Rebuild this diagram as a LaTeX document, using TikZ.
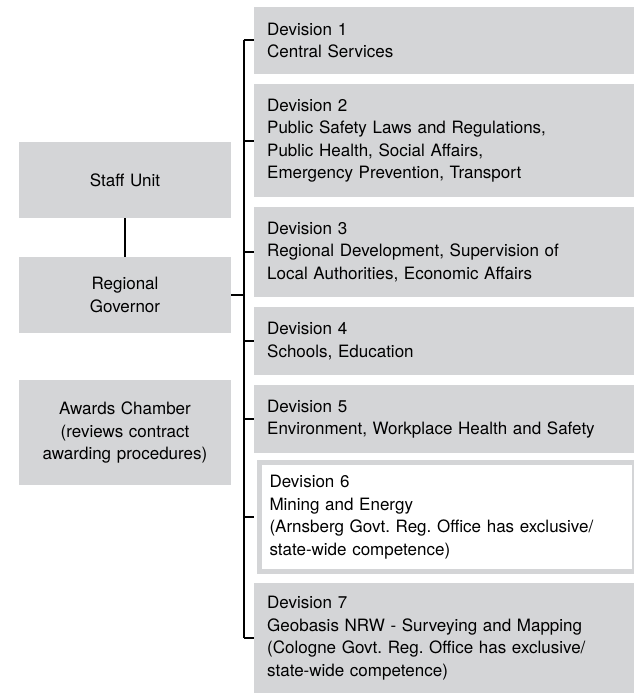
\documentclass[tikz,border=0pt]{standalone}
\usepackage{fontspec}
\setmainfont{TeX Gyre Heros}
\frenchspacing
\usetikzlibrary{calc,positioning}
\definecolor{BoxGray}{HTML}{D4D5D7}

\tikzset{
  unitbox/.style={
    fill=BoxGray,
    minimum width=212pt,
    text width=200pt,
    align=center,
    inner sep=0pt,
    font=\fontsize{17}{22.5}\selectfont
  },
  divbox/.style={
    fill=BoxGray,
    anchor=west,
    minimum width=380pt,
    text width=354pt,
    inner xsep=13pt,
    inner ysep=0pt,
    align=left,
    font=\fontsize{17}{22.5}\selectfont
  },
  link/.style={line width=2pt}
}

\begin{document}
\begin{tikzpicture}[x=1pt,y=-1pt]
  \useasboundingbox (0,0) rectangle (634,693);

  % left column
  \node[unitbox, minimum height=76pt] (staff) at (125,180) {Staff Unit};
  \node[unitbox, minimum height=76pt] (gov) at (125,295) {Regional\\Governor};
  \node[unitbox, minimum height=105pt] (awards) at (125,432.5)
    {Awards Chamber\\(reviews contract\\awarding procedures)};

  % divisions
  \node[divbox, minimum height=67pt] (d1) at (254,40.5)
    {Devision 1\\Central Services};
  \node[divbox, minimum height=113pt] (d2) at (254,140.5)
    {Devision 2\\Public Safety Laws and Regulations,\\Public Health, Social Affairs,\\Emergency Prevention, Transport};
  \node[divbox, minimum height=90pt] (d3) at (254,252)
    {Devision 3\\Regional Development, Supervision of\\Local Authorities, Economic Affairs};
  \node[divbox, minimum height=68pt] (d4) at (254,341)
    {Devision 4\\Schools, Education};
  \node[divbox, minimum height=68pt] (d5) at (254,419)
    {Devision 5\\Environment, Workplace Health and Safety};
  \node[divbox, fill=white, draw=BoxGray, line width=5pt,
    minimum width=375pt, minimum height=109pt, inner xsep=10.5pt] (d6) at (256.5,517)
    {Devision 6\\Mining and Energy\\(Arnsberg Govt. Reg. Office has exclusive/\\state-wide competence)};
  \node[divbox, minimum height=110pt] (d7) at (254,638)
    {Devision 7\\Geobasis NRW - Surveying and Mapping\\(Cologne Govt. Reg. Office has exclusive/\\state-wide competence)};

  % connectors
  \coordinate (bus) at (243.5,0);
  \draw[link] (staff) -- (gov);
  \draw[link] (gov.east) -- (gov.east -| bus);
  \draw[link] (bus |- d1.west) -- (bus |- d7.west);
  \foreach \d in {d1,d2,d3,d4,d5,d7}
    \draw[link] (bus |- \d.west) -- (\d.west);
  \draw[link] (bus |- d6.west) -- ([xshift=-2.5pt]d6.west);
\end{tikzpicture}
\end{document}
